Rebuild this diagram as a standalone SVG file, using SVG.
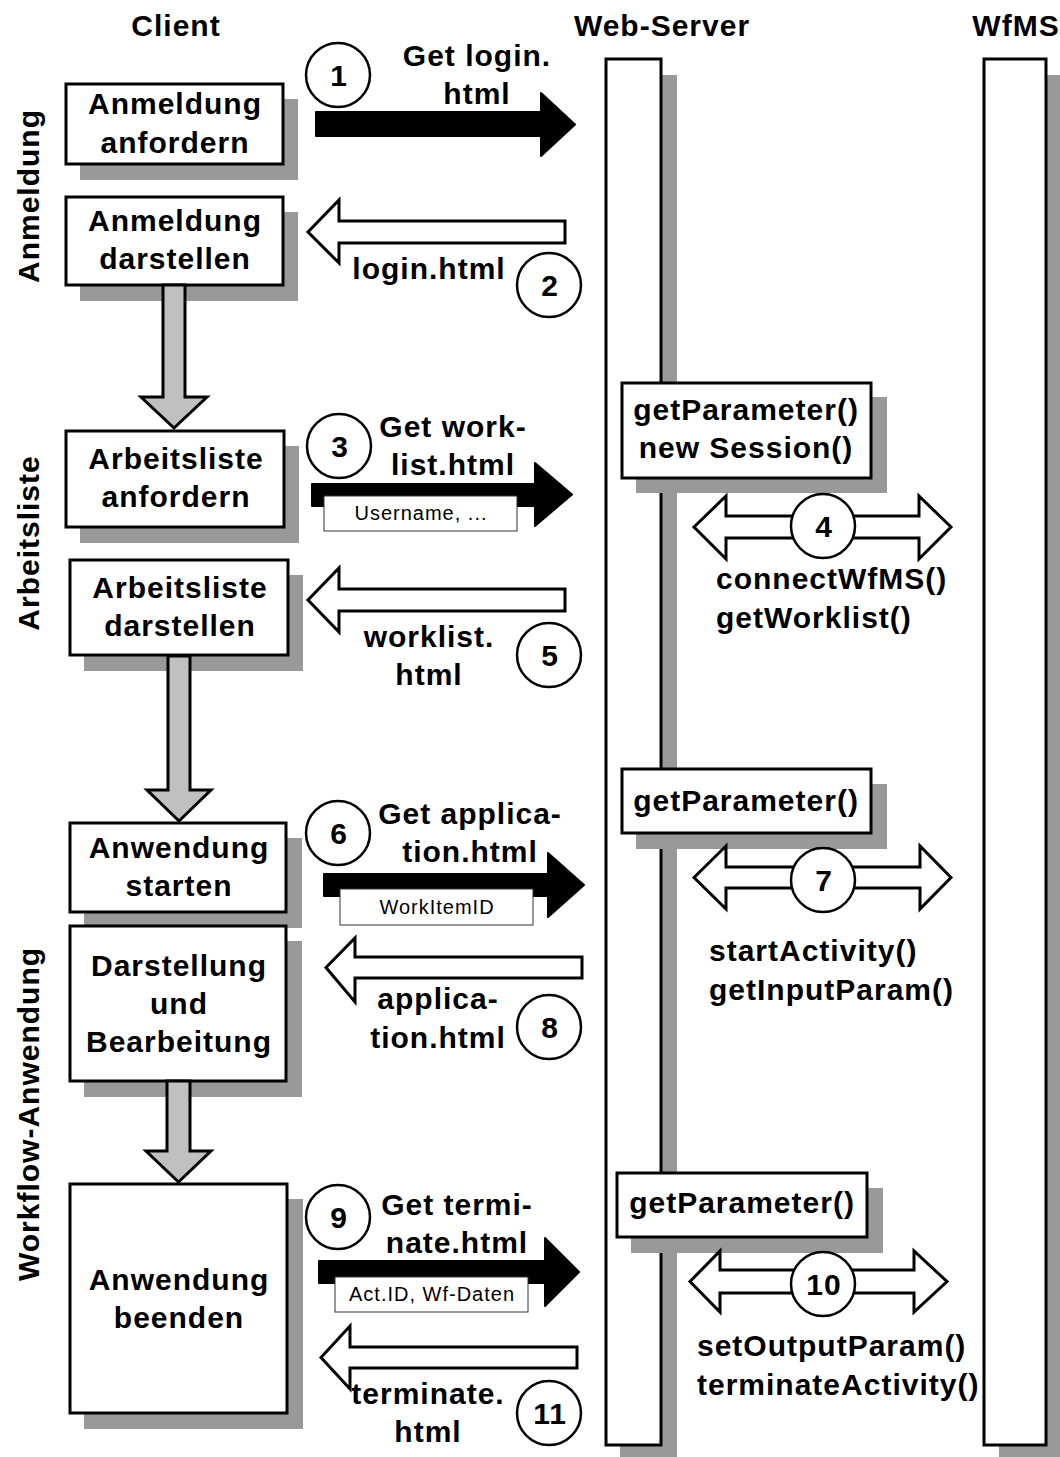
<svg xmlns="http://www.w3.org/2000/svg" width="1060" height="1457" viewBox="0 0 1060 1457">
<style>
.bg{fill:#fff}
.box{fill:#fff;stroke:#000;stroke-width:3}
.sh{fill:#999}
.t{font-family:"Liberation Sans",Arial,Helvetica,sans-serif;font-weight:bold;font-size:30px;letter-spacing:1px;fill:#000}
.m{text-anchor:middle}
.sm{font-size:20px;font-weight:normal;letter-spacing:1px}
.circ{fill:#fff;stroke:#000;stroke-width:2.5}
.blk{fill:#000;stroke:#000;stroke-width:2;stroke-linejoin:round}
.wht{fill:#fff;stroke:#000;stroke-width:3;stroke-linejoin:miter}
.gry{fill:#c0c0c0;stroke:#000;stroke-width:3;stroke-linejoin:miter}
.lbl{fill:#fff;stroke:#333;stroke-width:1}
</style>
<rect class="bg" x="0" y="0" width="1060" height="1457"/>

<!-- headers -->
<g id="headers">
<text class="t m" x="176" y="36">Client</text>
<text class="t m" x="662" y="36">Web-Server</text>
<text class="t m" x="1016" y="36">WfMS</text>
</g>

<!-- phase labels -->
<g id="phases">
<text class="t m" transform="translate(39,196) rotate(-90)">Anmeldung</text>
<text class="t m" transform="translate(39,543) rotate(-90)">Arbeitsliste</text>
<text class="t m" transform="translate(39,1114) rotate(-90)">Workflow-Anwendung</text>
</g>

<!-- lifelines -->
<g id="lifeline-webserver">
<rect class="sh" x="620" y="75" width="57" height="1400"/>
<rect class="box" x="606" y="59" width="55" height="1386"/>
</g>
<g id="lifeline-wfms">
<rect class="sh" x="999" y="75" width="64" height="1400"/>
<rect class="box" x="984" y="59" width="62" height="1386"/>
</g>

<!-- client nodes -->
<g id="n-anmeldung-anfordern">
<rect class="sh" x="80" y="99" width="218" height="81"/>
<rect class="box" x="66" y="84" width="217" height="80"/>
<text class="t m" x="175" y="114">Anmeldung</text>
<text class="t m" x="175" y="153">anfordern</text>
</g>
<g id="n-anmeldung-darstellen">
<rect class="sh" x="80" y="212" width="218" height="89"/>
<rect class="box" x="66" y="197" width="217" height="88"/>
<text class="t m" x="175" y="231">Anmeldung</text>
<text class="t m" x="175" y="269">darstellen</text>
</g>
<g id="n-arbeitsliste-anfordern">
<rect class="sh" x="80" y="446" width="219" height="97"/>
<rect class="box" x="66" y="431" width="218" height="96"/>
<text class="t m" x="176" y="469">Arbeitsliste</text>
<text class="t m" x="176" y="507">anfordern</text>
</g>
<g id="n-arbeitsliste-darstellen">
<rect class="sh" x="84" y="575" width="219" height="96"/>
<rect class="box" x="70" y="560" width="218" height="95"/>
<text class="t m" x="180" y="598">Arbeitsliste</text>
<text class="t m" x="180" y="636">darstellen</text>
</g>
<g id="n-anwendung-starten">
<rect class="sh" x="84" y="838" width="218" height="90"/>
<rect class="box" x="70" y="823" width="216" height="89"/>
<text class="t m" x="179" y="858">Anwendung</text>
<text class="t m" x="179" y="896">starten</text>
</g>
<g id="n-darstellung-bearbeitung">
<rect class="sh" x="84" y="941" width="218" height="156"/>
<rect class="box" x="70" y="926" width="216" height="155"/>
<text class="t m" x="179" y="976">Darstellung</text>
<text class="t m" x="179" y="1014">und</text>
<text class="t m" x="179" y="1052">Bearbeitung</text>
</g>
<g id="n-anwendung-beenden">
<rect class="sh" x="84" y="1199" width="219" height="230"/>
<rect class="box" x="70" y="1184" width="217" height="229"/>
<text class="t m" x="179" y="1290">Anwendung</text>
<text class="t m" x="179" y="1328">beenden</text>
</g>

<!-- server nodes -->
<g id="n-session">
<rect class="sh" x="636" y="397" width="251" height="96"/>
<rect class="box" x="622" y="383" width="249" height="95"/>
<text class="t m" x="746" y="420">getParameter()</text>
<text class="t m" x="746" y="458">new Session()</text>
</g>
<g id="n-getparam-2">
<rect class="sh" x="636" y="784" width="251" height="65"/>
<rect class="box" x="622" y="769" width="249" height="64"/>
<text class="t m" x="746" y="811">getParameter()</text>
</g>
<g id="n-getparam-3">
<rect class="sh" x="631" y="1188" width="252" height="65"/>
<rect class="box" x="617" y="1173" width="250" height="64"/>
<text class="t m" x="742" y="1213">getParameter()</text>
</g>

<!-- connectors -->
<g id="connectors">
<!-- client flow arrows -->
<polygon class="gry" points="163,285 185,285 185,397 207,397 174,428 141,397 163,397"/>
<polygon class="gry" points="168,656 190,656 190,790 211,790 179,821 147,790 168,790"/>
<polygon class="gry" points="167,1081 190,1081 190,1151 211,1151 178.5,1182 146,1151 167,1151"/>

<!-- 1 -->
<polygon class="blk" points="316,112 541,112 541,93 575,124.5 541,156 541,136 316,136"/>
<circle class="circ" cx="338" cy="75" r="32"/>
<text class="t m" x="339" y="86">1</text>
<text class="t m" x="477" y="66">Get login.</text>
<text class="t m" x="477" y="104">html</text>

<!-- 2 -->
<polygon class="wht" points="565,221 339,221 339,200 308,232 339,263 339,243 565,243"/>
<text class="t m" x="429" y="279">login.html</text>
<circle class="circ" cx="549" cy="285" r="32"/>
<text class="t m" x="550" y="296">2</text>

<!-- 3 -->
<polygon class="blk" points="312,484 535,484 535,463 572,494.5 535,526 535,506 312,506"/>
<rect class="lbl" x="324" y="496" width="193" height="35"/>
<text class="t m sm" x="421" y="520">Username, ...</text>
<circle class="circ" cx="339" cy="446" r="32"/>
<text class="t m" x="340" y="457">3</text>
<text class="t m" x="453" y="437">Get work-</text>
<text class="t m" x="453" y="475">list.html</text>

<!-- 4 -->
<polygon class="wht" points="694,527 726,496 726,516 919,516 919,496 951,527 919,559 919,538 726,538 726,559"/>
<circle class="circ" cx="823" cy="526" r="32"/>
<text class="t m" x="824" y="537">4</text>
<text class="t" x="716" y="589">connectWfMS()</text>
<text class="t" x="716" y="628">getWorklist()</text>

<!-- 5 -->
<polygon class="wht" points="565,589 339,589 339,568 308,600 339,632 339,611 565,611"/>
<text class="t m" x="429" y="647">worklist.</text>
<text class="t m" x="429" y="685">html</text>
<circle class="circ" cx="549" cy="655" r="32"/>
<text class="t m" x="550" y="666">5</text>

<!-- 6 -->
<polygon class="blk" points="324,874 548,874 548,853 584,885 548,917 548,896 324,896"/>
<rect class="lbl" x="340" y="889" width="193" height="36"/>
<text class="t m sm" x="437" y="914">WorkItemID</text>
<circle class="circ" cx="338" cy="833" r="32"/>
<text class="t m" x="339" y="844">6</text>
<text class="t m" x="470" y="824">Get applica-</text>
<text class="t m" x="470" y="862">tion.html</text>

<!-- 7 -->
<polygon class="wht" points="694,877.5 726,846 726,867 920,867 920,846 951,877.5 920,909 920,888 726,888 726,909"/>
<circle class="circ" cx="823" cy="880" r="32"/>
<text class="t m" x="824" y="891">7</text>
<text class="t" x="709" y="961">startActivity()</text>
<text class="t" x="709" y="1000">getInputParam()</text>

<!-- 8 -->
<polygon class="wht" points="582,957 355,957 355,938 326,967.5 355,1002 355,978 582,978"/>
<text class="t m" x="438" y="1009">applica-</text>
<text class="t m" x="438" y="1048">tion.html</text>
<circle class="circ" cx="549" cy="1027" r="32"/>
<text class="t m" x="550" y="1038">8</text>

<!-- 9 -->
<polygon class="blk" points="319,1261 545,1261 545,1238 579,1272 545,1306 545,1283 319,1283"/>
<rect class="lbl" x="335" y="1277" width="193" height="35"/>
<text class="t m sm" x="432" y="1301">Act.ID, Wf-Daten</text>
<circle class="circ" cx="338" cy="1217" r="32"/>
<text class="t m" x="339" y="1228">9</text>
<text class="t m" x="457" y="1215">Get termi-</text>
<text class="t m" x="457" y="1253">nate.html</text>

<!-- 10 -->
<polygon class="wht" points="690,1281.5 720,1251 720,1270 914,1270 914,1251 947,1281.5 914,1312 914,1293 720,1293 720,1312"/>
<circle class="circ" cx="823" cy="1284" r="32"/>
<text class="t m" x="824" y="1295">10</text>
<text class="t" x="697" y="1356">setOutputParam()</text>
<text class="t" x="697" y="1395">terminateActivity()</text>

<!-- 11 -->
<polygon class="wht" points="577,1347 350,1347 350,1326 321,1357.5 350,1389 350,1368 577,1368"/>
<text class="t m" x="428" y="1404">terminate.</text>
<text class="t m" x="428" y="1442">html</text>
<circle class="circ" cx="549" cy="1413" r="32"/>
<text class="t m" x="550" y="1424">11</text>
</g>
</svg>
